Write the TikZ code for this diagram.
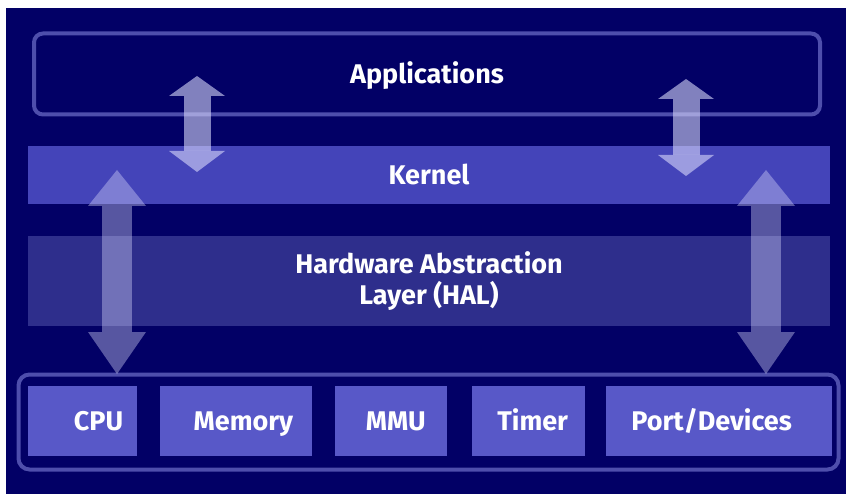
\documentclass[tikz,border=0pt]{standalone}
\usepackage{fontspec}
\setmainfont{Fira Sans}
\usetikzlibrary{arrows.meta, positioning}

\definecolor{navy}{RGB}{2,0,102}
\definecolor{kernelblue}{RGB}{68,68,185}
\definecolor{halblue}{RGB}{46,46,140}
\definecolor{boxblue}{RGB}{88,88,200}
\definecolor{rimblue}{RGB}{78,78,172}
\definecolor{lilac}{RGB}{215,215,250}

\tikzset{
  layertxt/.style={text=white, font=\fontsize{27}{31}\selectfont\bfseries},
  onerow/.style={text height=19pt, text depth=0pt},
  band/.style={inner sep=0pt, minimum width=802pt, layertxt},
  rimbox/.style={draw=rimblue, line width=4pt, rounded corners=9pt, inner sep=0pt},
  hwbox/.style={fill=boxblue, inner sep=0pt, minimum height=70pt},
  hwtxt/.style={layertxt, onerow, inner sep=0pt},
  thinarrow/.style={draw=lilac, opacity=.6, line width=27pt,
    {Triangle[width=56pt,length=20pt,line width=0pt]}-{Triangle[width=56pt,length=21pt,line width=0pt]}},
  fatarrow/.style={draw=lilac, opacity=.4, line width=30pt,
    {Triangle[width=58pt,length=36pt,line width=0pt]}-{Triangle[width=58pt,length=42pt,line width=0pt]}},
}

\begin{document}
\begin{tikzpicture}[x=1pt, y=-1pt]
  % 背景
  \useasboundingbox (0,0) rectangle (846,494);
  \fill[navy] (6,8) rectangle (846,494);

  % 軟體層
  \node[rimbox, minimum width=786pt, minimum height=81pt, layertxt, onerow] (apps) at (427,74) {Applications};
  \node[band, onerow, fill=kernelblue, minimum height=58pt] (kernel) at (429,175) {Kernel};
  \node[band, fill=halblue, minimum height=90pt, align=center] (hal) at (429,281)
    {Hardware Abstraction\\Layer (HAL)};

  % 硬體
  \node[rimbox, rounded corners=11pt, minimum width=820pt, minimum height=95pt] (hw) at (428.5,422) {};
  \node[hwbox, minimum width=109pt, label={[hwtxt, xshift=16pt]center:CPU}] (cpu) at (82.5,421) {};
  \node[hwbox, minimum width=152pt, right=23pt of cpu, label={[hwtxt, xshift=7pt]center:Memory}] (mem) {};
  \node[hwbox, minimum width=112pt, right=22pt of mem, label={[hwtxt, xshift=5pt]center:MMU}] (mmu) {};
  \node[hwbox, minimum width=113pt, right=25pt of mmu, label={[hwtxt, xshift=4pt]center:Timer}] (timer) {};
  \node[hwbox, minimum width=226pt, right=20pt of timer, label={[hwtxt, xshift=-7pt]center:Port/Devices}] (port) {};

  % 雙向箭頭
  \coordinate (appL) at (197,76);  \coordinate (kerL) at (197,172);
  \coordinate (appR) at (686,79);  \coordinate (kerR) at (686,176);
  \coordinate (topL) at (117,170); \coordinate (botL) at (117,374);
  \coordinate (topR) at (766,170); \coordinate (botR) at (766,374);
  \draw[thinarrow] (appL) -- (kerL);
  \draw[thinarrow] (appR) -- (kerR);
  \draw[fatarrow] (topL) -- (botL);
  \draw[fatarrow] (topR) -- (botR);
\end{tikzpicture}
\end{document}
